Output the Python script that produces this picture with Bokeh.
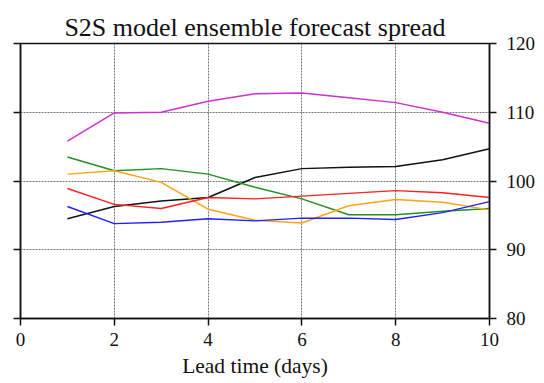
from bokeh.plotting import figure
from bokeh.models import LinearAxis, Range1d, FixedTicker
from bokeh.embed import file_html
from bokeh.resources import INLINE

lead = [1, 2, 3, 4, 5, 6, 7, 8, 9, 10]
magenta = [105.8, 109.9, 110.0, 111.6, 112.7, 112.8, 112.1, 111.4, 110.0, 108.4]
black = [94.5, 96.3, 97.1, 97.6, 100.5, 101.8, 102.0, 102.1, 103.1, 104.7]
green = [103.5, 101.5, 101.8, 101.0, 99.1, 97.4, 95.1, 95.1, 95.6, 96.0]
orange = [101.0, 101.5, 99.8, 95.9, 94.3, 93.9, 96.4, 97.3, 96.9, 95.8]
red = [98.9, 96.6, 96.0, 97.6, 97.4, 97.8, 98.2, 98.6, 98.3, 97.6]
blue = [96.3, 93.8, 94.0, 94.5, 94.2, 94.6, 94.6, 94.4, 95.4, 97.0]

series = [
    (magenta, "#d030d0"),
    (black, "#111111"),
    (green, "#209020"),
    (orange, "#ffa510"),
    (red, "#ff2020"),
    (blue, "#2020ff"),
]

x_ticks = [0, 2, 4, 6, 8, 10]
y_ticks = [80, 90, 100, 110, 120]

FONT = "Liberation Serif"
INK = "#111111"

p = figure(width=544, height=383, output_backend="svg", toolbar_location=None,
           x_range=Range1d(0, 10), y_range=Range1d(80, 120),
           y_axis_location=None,
           min_border_left=20, min_border_right=55, min_border_top=43,
           min_border_bottom=65)

p.title.text = "S2S model ensemble forecast spread"
p.title.text_font = FONT
p.title.text_font_size = "26px"
p.title.text_font_style = "normal"
p.title.align = "center"
p.title.text_color = INK
p.title.standoff = 4

# bottom axis
xa = p.xaxis[0]
xa.ticker = FixedTicker(ticks=x_ticks)
xa.axis_label = "Lead time (days)"
xa.axis_label_text_font_size = "21.5px"
xa.axis_label_text_font_style = "normal"
xa.axis_label_standoff = 5
xa.major_label_text_font_size = "19px"
xa.major_label_standoff = 7

# left axis: ticks only
la = LinearAxis(ticker=FixedTicker(ticks=y_ticks),
                major_label_overrides={80: "", 90: "", 100: "", 110: "", 120: ""})
la.major_label_standoff = 0
p.add_layout(la, "left")

# right axis with labels
ra = LinearAxis(ticker=FixedTicker(ticks=y_ticks))
ra.major_label_text_font_size = "19px"
ra.major_label_standoff = 10
p.add_layout(ra, "right")

for ax in (xa, la, ra):
    ax.major_label_text_font = FONT
    ax.axis_label_text_font = FONT
    ax.major_tick_out = 7
    ax.major_tick_in = 0
    ax.minor_tick_out = 0
    ax.minor_tick_in = 0
    ax.axis_line_width = 1.5
    ax.major_tick_line_width = 1.5
    ax.axis_line_color = INK
    ax.major_tick_line_color = INK
    ax.major_label_text_color = INK
    ax.axis_label_text_color = INK

p.xgrid.ticker = FixedTicker(ticks=x_ticks)
p.ygrid.ticker = FixedTicker(ticks=y_ticks)
for g in (p.xgrid[0], p.ygrid[0]):
    g.grid_line_color = "#555555"
    g.grid_line_dash = "2 1"
    g.grid_line_width = 0.8

p.outline_line_color = INK
p.outline_line_width = 1.5
p.outline_line_alpha = 1.0
p.background_fill_color = "white"
p.border_fill_color = "white"

for vals, col in series:
    p.line(lead, vals, line_color=col, line_width=1.5)

open("out.html", "w").write(file_html(p, INLINE))
